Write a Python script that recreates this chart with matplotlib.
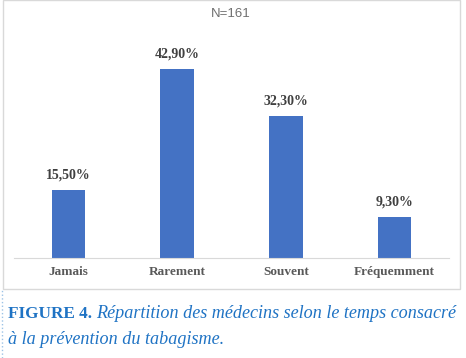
import matplotlib.pyplot as plt
from matplotlib.patches import Rectangle

categories = ['Jamais', 'Rarement', 'Souvent', 'Fréquemment']
percent = [15.5, 42.9, 32.3, 9.3]
value_labels = ['15,50%', '42,90%', '32,30%', '9,30%']
chart_title = 'N=161'
caption_bold = 'FIGURE 4. '
caption_rest = 'Répartition des médecins selon le temps consacré'
caption_line2 = 'à la prévention du tabagisme.'

W, H = 466, 358
fig = plt.figure(figsize=(W / 100, H / 100), dpi=100)

# chart frame
fig.patches.append(Rectangle((3 / W, 1 - 289 / H), 457 / W, 289 / H, transform=fig.transFigure,
                             fill=False, edgecolor='#d9d9d9', linewidth=1))
# dotted line left of caption
fig.add_artist(plt.Line2D([2 / W, 2 / W], [0, 1 - 290 / H], transform=fig.transFigure,
                          color='#9dc3e6', linestyle=':', linewidth=1))

ax = fig.add_axes([14 / W, 1 - 258 / H, 435 / W, 220 / H])
x = range(len(categories))
bars = ax.bar(x, percent, width=0.31, color='#4472C4')
ax.set_xlim(-0.5, 3.5)
ax.set_ylim(0, 50)

for b, lab in zip(bars, value_labels):
    ax.annotate(lab, (b.get_x() + b.get_width() / 2, b.get_height()), xytext=(0, 6),
                textcoords='offset points', ha='center', va='bottom',
                fontsize=10, fontweight='bold', family='Liberation Serif', color='#404040')

for s in ['top', 'right', 'left']:
    ax.spines[s].set_visible(False)
ax.spines['bottom'].set_color('#d9d9d9')
ax.set_yticks([])
ax.set_xticks(list(x))
ax.set_xticklabels(categories, fontsize=9.5, fontweight='bold', family='Liberation Serif', color='#595959')
ax.tick_params(axis='x', length=0, pad=6)

fig.text(231 / W, 1 - 14 / H, chart_title, ha='center', va='center', fontsize=9.5,
         family='Liberation Sans', color='#6f6f6f')

cap_color = '#1f73c4'
t1 = fig.text(8 / W, 1 - 318 / H, caption_bold, ha='left', va='baseline', fontsize=12.3,
              fontweight='bold', family='Liberation Serif', color=cap_color)
fig.canvas.draw()
bb = t1.get_window_extent()
fig.text(bb.x1 / W, 1 - 318 / H, caption_rest, ha='left', va='baseline', fontsize=13.1,
         style='italic', family='Liberation Serif', color=cap_color)
fig.text(8 / W, 1 - 344 / H, caption_line2, ha='left', va='baseline', fontsize=13.1,
         style='italic', family='Liberation Serif', color=cap_color)

fig.savefig('out.png', dpi=100)
